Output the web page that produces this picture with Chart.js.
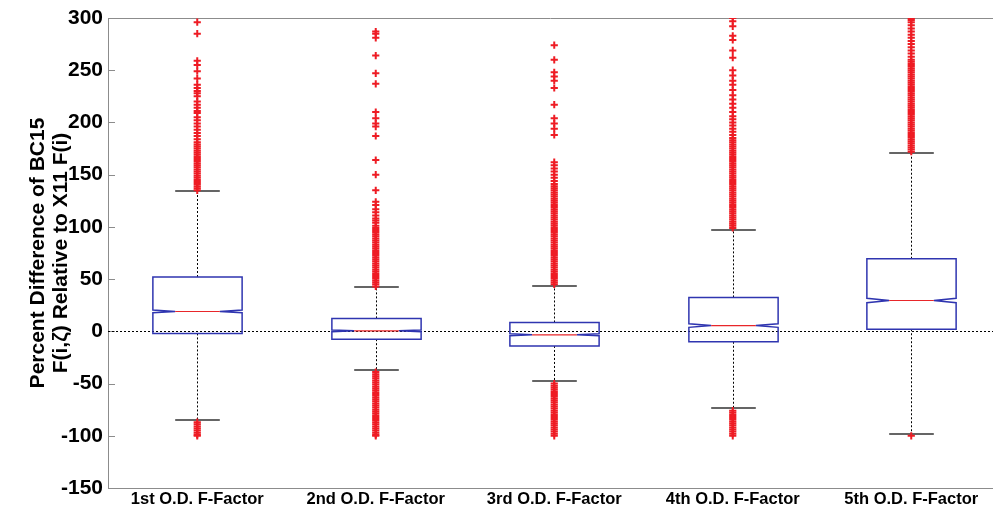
<!DOCTYPE html>
<html>
<head>
<meta charset="utf-8">
<script src="https://cdn.jsdelivr.net/npm/chart.js@4/dist/chart.umd.min.js"></script>
<style>
  body { margin: 0; background: #fff; overflow: hidden; }
  #box-chart { display: block; }
</style>
</head>
<body>
<canvas id="box-chart" width="993" height="512"></canvas>
<script>
// box statistics, one entry per F-factor
var categories = ['1st O.D. F-Factor', '2nd O.D. F-Factor', '3rd O.D. F-Factor', '4th O.D. F-Factor', '5th O.D. F-Factor'];
var q1Values     = [-2, -7.5, -14, -10, 2];
var q3Values     = [52, 12.4, 8.5, 32.5, 69.5];
var medianValues = [19, 0.5, -3.3, 5.5, 29.5];
var notchLow     = [17.8, -0.3, -4.2, 3.8, 27.4];
var notchHigh    = [20.4, 1.3, -2.4, 7.2, 31.6];
var whiskerLow   = [-85, -37, -48, -73, -98];
var whiskerHigh  = [134, 42, 43, 97, 171];

var outliers1 = [296, 285, 259, 255, 249, 242, 236, 233, 230, 228, 225, 220, 217, 214, 211, 209, 205, 202, 199, 196,
    193, 190, 187, 184, 181, 179, 177, 175, 173, 171, 169, 167, 165, 163, 161, 159, 157, 155, 153, 151, 149, 147,
    145, 143, 141, 139, 137, 135, -87, -89, -91, -93, -95, -97, -99, -100];
var outliers2 = [287, 285, 281, 264, 247, 237, 210, 204, 199, 196, 187, 164, 150, 135, 124, 121, 117, 114, 111, 108,
    106, 104, 101, 99, 97, 95, 93, 91, 89, 87, 85, 83, 81, 79, 77, 75, 73, 71, 69, 67, 65, 63, 61, 59, 57, 55, 53,
    51, 49, 47, 45, 43, -39, -41, -43, -45, -47, -49, -51, -53, -55, -57, -59, -61, -63, -65, -67, -69, -71, -73,
    -75, -77, -79, -81, -83, -85, -87, -89, -91, -93, -95, -97, -99, -100];
var outliers3 = [274, 260, 248, 244, 240, 233, 217, 204, 199, 194, 188, 162, 159, 156, 153, 150, 147, 144, 141, 139,
    137, 135, 133, 131, 129, 127, 125, 123, 121, 119, 117, 115, 113, 111, 109, 107, 105, 103, 101, 99, 97, 95, 93,
    91, 89, 87, 85, 83, 81, 79, 77, 75, 73, 71, 69, 67, 65, 63, 61, 59, 57, 55, 53, 51, 49, 47, 45, -50, -52, -54,
    -56, -58, -60, -62, -64, -66, -68, -70, -72, -74, -76, -78, -80, -82, -84, -86, -88, -90, -92, -94, -96, -98, -100];
var outliers4 = [300, 297, 292, 283, 279, 269, 262, 250, 245, 240, 236, 231, 226, 222, 218, 214, 210, 206, 203, 200,
    197, 194, 191, 188, 185, 183, 181, 179, 177, 175, 173, 171, 169, 167, 165, 163, 161, 159, 157, 155, 153, 151,
    149, 147, 145, 143, 141, 139, 137, 135, 133, 131, 129, 127, 125, 123, 121, 119, 117, 115, 113, 111, 109, 107,
    105, 103, 101, 99, -76, -78, -80, -82, -84, -86, -88, -90, -92, -94, -96, -98, -100];
var outliers5 = [300, 298, 296, 293, 290, 287, 284, 281, 278, 275, 272, 269, 266, 263, 260, 258, 256, 254, 252, 250,
    248, 246, 244, 242, 240, 238, 236, 234, 232, 230, 228, 226, 224, 222, 220, 218, 216, 214, 212, 210, 208, 206,
    204, 202, 200, 198, 196, 194, 192, 190, 188, 186, 184, 182, 180, 178, 176, 174, 172, -100];

var allOutliers = [outliers1, outliers2, outliers3, outliers4, outliers5];
var yTicks = [-150, -100, -50, 0, 50, 100, 150, 200, 250, 300];

var FONT = '"Liberation Sans", Arial, sans-serif';
var BOX_BLUE = '#2f35b0';
var AXIS_GREY = '#8c8c8c';

var points = [];
allOutliers.forEach(function(list, i) {
    list.forEach(function(v) { points.push({ x: i + 1, y: v }); });
});

// boxes, notches, whiskers and the dotted zero line
var boxPlugin = {
    id: 'boxPlugin',
    beforeDatasetsDraw: function(chart) {
        var ctx = chart.ctx;
        var xs = chart.scales.x, ys = chart.scales.y;
        var area = chart.chartArea;
        ctx.save();

        // frame top and inner ticks
        ctx.strokeStyle = AXIS_GREY;
        ctx.lineWidth = 1;
        ctx.beginPath();
        ctx.moveTo(area.left, area.top + 0.5);
        ctx.lineTo(area.right, area.top + 0.5);
        yTicks.forEach(function(t) {
            var py = Math.round(ys.getPixelForValue(t)) + 0.5;
            ctx.moveTo(area.left, py);
            ctx.lineTo(area.left + 7, py);
        });
        ctx.stroke();

        // zero reference line
        var y0 = Math.round(ys.getPixelForValue(0)) + 0.5;
        ctx.strokeStyle = '#000';
        ctx.setLineDash([2, 2]);
        ctx.beginPath();
        ctx.moveTo(area.left, y0);
        ctx.lineTo(area.right, y0);
        ctx.stroke();

        var unit = xs.getPixelForValue(2) - xs.getPixelForValue(1);
        var half = unit * 0.25;
        var capHalf = unit * 0.125;

        categories.forEach(function(c, i) {
            var cx = Math.round(xs.getPixelForValue(i + 1)) + 0.5;
            var pQ1 = ys.getPixelForValue(q1Values[i]);
            var pQ3 = ys.getPixelForValue(q3Values[i]);
            var pMed = ys.getPixelForValue(medianValues[i]);
            var pNl = ys.getPixelForValue(notchLow[i]);
            var pNh = ys.getPixelForValue(notchHigh[i]);
            var pWl = Math.round(ys.getPixelForValue(whiskerLow[i]));
            var pWh = Math.round(ys.getPixelForValue(whiskerHigh[i]));

            // dotted whisker stems
            ctx.strokeStyle = '#000';
            ctx.lineWidth = 1;
            ctx.setLineDash([2, 2]);
            ctx.beginPath();
            ctx.moveTo(cx, pQ3);
            ctx.lineTo(cx, pWh);
            ctx.moveTo(cx, pQ1);
            ctx.lineTo(cx, pWl);
            ctx.stroke();

            // whisker caps
            ctx.setLineDash([]);
            ctx.strokeStyle = '#333';
            ctx.lineWidth = 1.6;
            ctx.beginPath();
            ctx.moveTo(cx - capHalf, pWh);
            ctx.lineTo(cx + capHalf, pWh);
            ctx.moveTo(cx - capHalf, pWl);
            ctx.lineTo(cx + capHalf, pWl);
            ctx.stroke();

            // notched box
            ctx.strokeStyle = BOX_BLUE;
            ctx.lineWidth = 1.5;
            ctx.beginPath();
            ctx.moveTo(cx - half, pQ1);
            ctx.lineTo(cx - half, pNl);
            ctx.lineTo(cx - half / 2, pMed);
            ctx.lineTo(cx - half, pNh);
            ctx.lineTo(cx - half, pQ3);
            ctx.lineTo(cx + half, pQ3);
            ctx.lineTo(cx + half, pNh);
            ctx.lineTo(cx + half / 2, pMed);
            ctx.lineTo(cx + half, pNl);
            ctx.lineTo(cx + half, pQ1);
            ctx.closePath();
            ctx.stroke();

            // median
            ctx.strokeStyle = '#e8262a';
            ctx.lineWidth = 1.2;
            ctx.beginPath();
            ctx.moveTo(cx - half / 2, pMed);
            ctx.lineTo(cx + half / 2, pMed);
            ctx.stroke();
        });
        ctx.restore();
    }
};

new Chart(document.getElementById('box-chart'), {
    type: 'scatter',
    data: {
        datasets: [{
            data: points,
            pointStyle: 'cross',
            pointRadius: 3.6,
            pointBorderWidth: 2,
            borderColor: '#ee1c24',
            backgroundColor: '#ee1c24'
        }]
    },
    options: {
        responsive: false,
        animation: false,
        layout: { autoPadding: false, padding: { top: 18, right: 0, bottom: 0, left: 0 } },
        plugins: { legend: { display: false }, tooltip: { enabled: false } },
        scales: {
            x: {
                type: 'linear',
                min: 0.5,
                max: 5.458,
                afterFit: function(scale) {
                    scale.height = 24;
                    scale.paddingLeft = 0;
                    scale.paddingRight = 0;
                },
                afterBuildTicks: function(scale) {
                    scale.ticks = categories.map(function(c, i) { return { value: i + 1 }; });
                },
                ticks: {
                    autoSkip: false,
                    maxRotation: 0,
                    padding: 2,
                    color: '#000',
                    font: { family: FONT, size: 16.5, weight: 'bold' },
                    callback: function(v) { return categories[v - 1]; }
                },
                grid: { display: false, drawTicks: false },
                border: { color: AXIS_GREY }
            },
            y: {
                min: -150,
                max: 300,
                afterFit: function(scale) { scale.width = 108; },
                afterBuildTicks: function(scale) {
                    scale.ticks = yTicks.map(function(v) { return { value: v }; });
                },
                ticks: {
                    padding: 5,
                    color: '#000',
                    font: { family: FONT, size: 21, weight: 'bold' }
                },
                grid: { drawOnChartArea: false, drawTicks: false },
                border: { color: AXIS_GREY },
                title: {
                    display: true,
                    text: ['Percent Difference of BC15', 'F(i,\u03B6) Relative to X11 F(i)'],
                    color: '#000',
                    padding: { top: 27, bottom: 0 },
                    font: { family: FONT, size: 21, weight: 'bold', lineHeight: 1.1 }
                }
            }
        }
    },
    plugins: [boxPlugin]
});
</script>
</body>
</html>
